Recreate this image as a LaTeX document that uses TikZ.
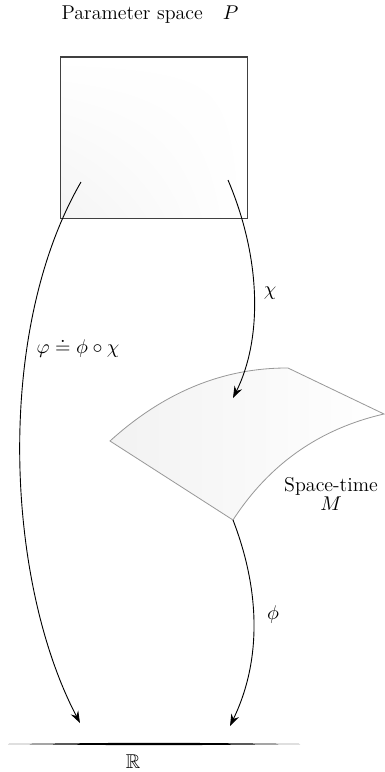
\documentclass[tikz,border=0pt]{standalone}
\usepackage{amsmath}
\usepackage{amssymb}
\usepackage{tikz}
\usetikzlibrary{arrows.meta, shadings}

\begin{document}
\begin{tikzpicture}[x=0.55pt, y=-0.55pt, font=\fontsize{11}{13}\selectfont, >={Stealth[length=6.5pt,width=4.6pt,inset=2.2pt]}]
\tikzstyle{map}=[->, line width=0.5pt]
\tikzstyle{sheet}=[draw=black!40, line width=0.45pt]
\useasboundingbox (0,0) rectangle (385,772);

\node (ptitle) at (150,15) {Parameter space\quad $P$};
\node[draw=black!75, line width=0.6pt, minimum width=103pt, minimum height=88.6pt, lower left=black!4, upper left=white, upper right=white, lower right=white] (param) at (154.3,137.5) {};

\coordinate (pL) at (81,182);
\coordinate (pR) at (228,180);

\coordinate (mL) at (110,441);
\coordinate (mT) at (288,368);
\coordinate (mR) at (384,414);
\coordinate (mB) at (233,520);
\shadedraw[sheet, left color=black!5, right color=white] (mL) .. controls (164,392) and (223.3,367.7) .. (mT) -- (mR) .. controls (319.7,428.7) and (269.3,464) .. (mB) -- cycle;
\node[align=center, inner sep=1pt] (spacetime) at (331,494) {Space-time\\[-3pt]$M$};

\coordinate (rA) at (80,723);
\coordinate (rB) at (230,726);
\coordinate (rL) at (8,744);
\coordinate (rR) at (300,744);
\fill (rL) .. controls (154,742.4) .. (rR) .. controls (154,745.6) .. (rL);
\node (reals) at (133,762) {$\mathbb{R}$};

\draw[map] (pR) .. controls (262,260) and (262,340) .. (233,398);
\node (chi) at (270,293) {$\chi$};
\draw[map] (pL) .. controls (-5,330) and (5,580) .. (rA);
\node (comp) at (78,348) {$\varphi \doteq \phi\circ\chi$};
\draw[map] (mB) .. controls (260,590) and (262,660) .. (rB);
\node (phi) at (273,615) {$\phi$};
\end{tikzpicture}
\end{document}
